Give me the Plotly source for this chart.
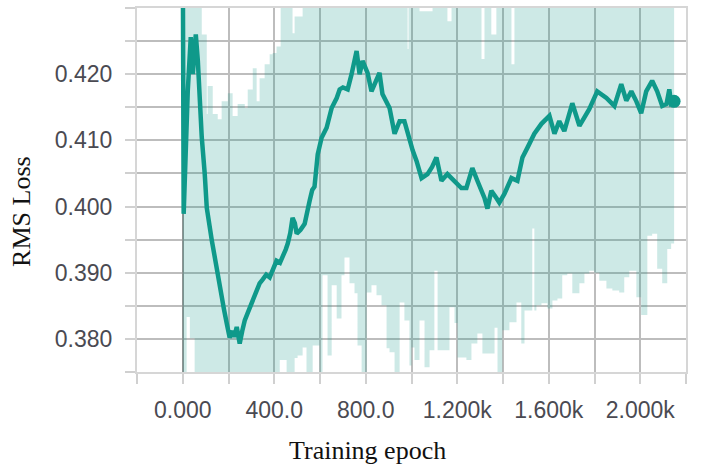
import plotly.graph_objects as go

# Smoothed RMS loss per training epoch
smooth_epoch = [0, 4, 22, 35, 44, 57, 66, 74, 83, 96, 105, 127, 145, 162, 180, 192, 205, 218, 225, 236,
                249, 260, 271, 285, 301, 315, 336, 350, 365, 380, 395, 410, 425, 437, 450, 459, 470, 480,
                490, 498, 515, 533, 545, 555, 566, 576, 590, 607, 629, 651, 673, 686, 700, 721, 738, 760,
                773, 786, 808, 825, 845, 860, 873, 890, 904, 926, 948, 969, 991, 1005, 1022, 1044, 1070,
                1090, 1109, 1131, 1157, 1188, 1218, 1240, 1266, 1288, 1319, 1332, 1349, 1371, 1384, 1406,
                1437, 1463, 1485, 1507, 1537, 1568, 1603, 1625, 1646, 1668, 1685, 1703, 1734, 1777, 1812,
                1852, 1887, 1917, 1939, 1961, 1983, 2004, 2026, 2052, 2074, 2096, 2115, 2127, 2135, 2148]
smooth_loss = [0.4400, 0.3989, 0.4175, 0.4256, 0.4200, 0.4260, 0.4220, 0.4145, 0.4105, 0.4050, 0.3998,
               0.3949, 0.3912, 0.3873, 0.3845, 0.3824, 0.3802, 0.3812, 0.3803, 0.3818, 0.3793, 0.3812,
               0.3828, 0.3840, 0.3854, 0.3865, 0.3884, 0.3890, 0.3897, 0.3893, 0.3905, 0.3918, 0.3915,
               0.3923, 0.3935, 0.3944, 0.3960, 0.3983, 0.3975, 0.3959, 0.3965, 0.3974, 0.3990, 0.4009,
               0.4025, 0.4030, 0.4079, 0.4104, 0.4119, 0.4149, 0.4164, 0.4177, 0.4180, 0.4177, 0.4200,
               0.4235, 0.4200, 0.4220, 0.4202, 0.4174, 0.4190, 0.4202, 0.4170, 0.4160, 0.4149, 0.4110,
               0.4129, 0.4129, 0.4099, 0.4085, 0.4069, 0.4043, 0.4049, 0.4060, 0.4074, 0.4039, 0.4049,
               0.4039, 0.4028, 0.4028, 0.4058, 0.4039, 0.4013, 0.3997, 0.4024, 0.4013, 0.4006, 0.4019,
               0.4043, 0.4039, 0.4074, 0.4089, 0.4110, 0.4125, 0.4137, 0.4110, 0.4129, 0.4114, 0.4135,
               0.4156, 0.4122, 0.4147, 0.4174, 0.4164, 0.4152, 0.4185, 0.4160, 0.4174, 0.4159, 0.4141,
               0.4174, 0.4190, 0.4174, 0.4152, 0.4155, 0.4177, 0.4156, 0.4159]

# Envelope of the raw (unsmoothed) loss: upper and lower extremes
raw_high_epoch = [0, 83, 105, 109, 131, 153, 170, 197, 218, 240, 271, 284, 306, 323, 336, 358, 380, 393,
                  410, 428, 480, 489, 524, 983, 987, 1035, 1092, 1157, 1175, 1306, 1319, 1349, 1371, 1437,
                  1450, 2148]
raw_high_loss = [0.445, 0.4260, 0.4140, 0.4182, 0.4140, 0.4132, 0.4159, 0.4171, 0.4137, 0.4155, 0.4149,
                 0.4177, 0.4209, 0.4159, 0.4194, 0.4215, 0.4230, 0.4232, 0.4242, 0.445, 0.4262, 0.4287,
                 0.445, 0.4238, 0.445, 0.4295, 0.445, 0.4280, 0.445, 0.4223, 0.445, 0.4260, 0.445, 0.4215,
                 0.445, 0.445]
raw_low_epoch = [0, 17, 31, 52, 424, 454, 489, 502, 524, 541, 568, 598, 611, 633, 651, 673, 694, 707, 729,
                 751, 764, 782, 804, 825, 847, 869, 891, 904, 926, 948, 969, 991, 1000, 1013, 1035, 1057,
                 1079, 1100, 1114, 1166, 1188, 1201, 1240, 1262, 1288, 1310, 1363, 1376, 1397, 1428, 1459,
                 1480, 1494, 1528, 1537, 1546, 1568, 1594, 1616, 1638, 1659, 1681, 1703, 1734, 1756, 1777,
                 1799, 1821, 1852, 1878, 1908, 1930, 1952, 1983, 2004, 2031, 2052, 2074, 2096, 2118, 2135,
                 2148]
raw_low_loss = [0.36, 0.3833, 0.3801, 0.36, 0.3768, 0.36, 0.3771, 0.3775, 0.3787, 0.36, 0.3790, 0.36,
                0.3896, 0.3775, 0.3881, 0.3831, 0.3896, 0.3923, 0.3884, 0.3869, 0.3790, 0.36, 0.3870,
                0.3881, 0.3866, 0.3851, 0.3786, 0.3780, 0.36, 0.3855, 0.3828, 0.3760, 0.3787, 0.3768,
                0.3828, 0.3757, 0.3783, 0.3903, 0.3783, 0.3848, 0.3824, 0.3772, 0.3768, 0.3793, 0.3808,
                0.3778, 0.3817, 0.36, 0.3813, 0.3825, 0.3855, 0.3793, 0.3843, 0.3967, 0.3843, 0.3851,
                0.3854, 0.3846, 0.3858, 0.3861, 0.3896, 0.3899, 0.3869, 0.3884, 0.3899, 0.3903, 0.3900,
                0.3888, 0.3876, 0.3873, 0.3870, 0.3893, 0.3903, 0.3863, 0.3836, 0.3956, 0.3959, 0.3906,
                0.3884, 0.3936, 0.3944, 0.3944]

x_tick_vals = [0, 400, 800, 1200, 1600, 2000]
x_tick_text = ["0.000", "400.0", "800.0", "1.200k", "1.600k", "2.000k"]
y_tick_vals = [0.38, 0.39, 0.40, 0.41, 0.42]
y_tick_text = ["0.380", "0.390", "0.400", "0.410", "0.420"]

TEAL = "#0f998a"
BAND = "rgba(17,153,138,0.21)"
GRID = "#bdbdbd"
TICK_FONT = dict(family="Liberation Sans, Arial, sans-serif", size=23, color="#4a4a52")
TITLE_FONT = dict(family="Liberation Serif, Times New Roman, serif", size=26, color="#111111")

fig = go.Figure()
fig.add_trace(go.Scatter(x=raw_low_epoch, y=raw_low_loss, mode="lines",
                         line=dict(width=0, shape="hv", color=BAND), hoverinfo="skip", showlegend=False))
fig.add_trace(go.Scatter(x=raw_high_epoch, y=raw_high_loss, mode="lines", fill="tonexty",
                         fillcolor=BAND, line=dict(width=0, shape="hv", color=BAND),
                         hoverinfo="skip", showlegend=False))
fig.add_trace(go.Scatter(x=smooth_epoch, y=smooth_loss, mode="lines",
                         line=dict(color=TEAL, width=4.5), showlegend=False))
fig.add_trace(go.Scatter(x=smooth_epoch[-1:], y=smooth_loss[-1:], mode="markers",
                         marker=dict(color=TEAL, size=13), showlegend=False))

axis_common = dict(
    ticks="outside", ticklen=10, tickwidth=2, tickcolor="#d0d0d0",
    showgrid=True, gridcolor=GRID, gridwidth=2,
    showline=True, mirror=True, linecolor="#d6d6d6", linewidth=2,
    tickfont=TICK_FONT,
)

fig.update_xaxes(
    range=[-200, 2200], tickmode="array", tickvals=x_tick_vals, ticktext=x_tick_text,
    zeroline=True, zerolinecolor="#949494", zerolinewidth=2,
    minor=dict(tick0=-200, dtick=200, ticks="outside", ticklen=10, tickwidth=2, tickcolor="#d0d0d0",
               showgrid=True, gridcolor=GRID, gridwidth=2),
    ticklabelstandoff=6,
    **axis_common,
)
fig.update_yaxes(
    range=[0.375, 0.430], tickmode="array", tickvals=y_tick_vals, ticktext=y_tick_text,
    zeroline=False,
    minor=dict(tick0=0.375, dtick=0.005, ticks="outside", ticklen=10, tickwidth=2, tickcolor="#d0d0d0",
               showgrid=True, gridcolor=GRID, gridwidth=2),
    ticklabelstandoff=8,
    **axis_common,
)

fig.update_layout(
    width=702, height=468,
    margin=dict(l=137, r=16, t=6, b=96),
    paper_bgcolor="white", plot_bgcolor="white",
    annotations=[
        dict(text="RMS Loss", xref="paper", yref="paper", x=-0.2095, y=0.4426,
             xanchor="center", yanchor="middle", textangle=-90, showarrow=False, font=TITLE_FONT),
        dict(text="Training epoch", xref="paper", yref="paper", x=0.419, y=-0.216,
             xanchor="center", yanchor="middle", showarrow=False, font=TITLE_FONT),
    ],
)

fig.write_html("out.html")
